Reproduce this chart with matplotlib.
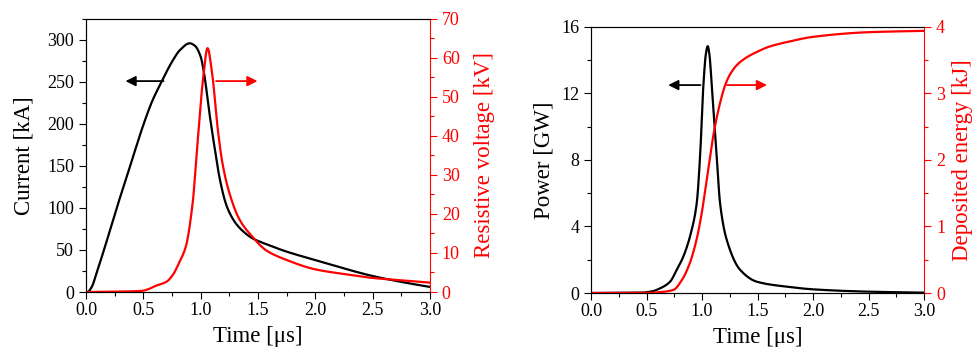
import numpy as np
import matplotlib
matplotlib.use('Agg')
import matplotlib.pyplot as plt
from matplotlib.ticker import MultipleLocator

plt.rcParams['font.family'] = 'Liberation Serif'

# Current [kA] vs time [us]
t_cur = [0.0, 0.012, 0.05, 0.093, 0.152, 0.268, 0.385, 0.508, 0.58, 0.662, 0.75,
         0.82, 0.904, 0.95, 1.0, 1.03, 1.076, 1.12, 1.163, 1.22, 1.26, 1.31, 1.38,
         1.45, 1.57, 1.75, 2.0, 2.25, 2.5, 2.75, 3.0]
current = [0, 0, 6, 23, 48, 100, 150, 202, 228, 251, 274,
           288, 296, 293, 280, 260, 213, 173, 137, 105, 92, 81, 71,
           64, 57, 48, 38, 28, 19, 12, 6]

# Resistive voltage [kV]
t_vol = [0.0, 0.3, 0.49, 0.55, 0.6, 0.70, 0.76, 0.81, 0.87, 0.93, 0.97, 1.02,
         1.06, 1.10, 1.15, 1.19, 1.25, 1.34, 1.45, 1.57, 1.75, 2.0, 2.25, 2.5,
         2.75, 3.0]
voltage = [0, 0.1, 0.3, 0.8, 1.5, 2.6, 4.5, 7.4, 11.6, 22.8, 37.3, 54.4,
           62.5, 56, 41.5, 33, 25.4, 18.5, 14.2, 10.7, 8.2, 5.8, 4.6, 3.6,
           3.0, 2.4]

# Power [GW]
t_pow = [0.0, 0.45, 0.55, 0.622, 0.712, 0.772, 0.832, 0.907, 0.952, 0.982,
         1.012, 1.035, 1.051, 1.067, 1.087, 1.132, 1.162, 1.222, 1.342, 1.493,
         1.763, 2.0, 2.5, 3.0]
power = [0, 0.02, 0.1, 0.28, 0.68, 1.4, 2.2, 3.8, 5.4, 8.2,
         12.5, 14.4, 14.84, 14.3, 12.5, 8.2, 5.4, 3.2, 1.4, 0.68,
         0.38, 0.22, 0.08, 0.02]

# Deposited energy [kJ]
t_en = [0.0, 0.5, 0.6, 0.74, 0.82, 0.89, 0.95, 0.997, 1.035, 1.072, 1.11, 1.147,
        1.18, 1.207, 1.25, 1.31, 1.4, 1.49, 1.6, 1.76, 2.0, 2.5, 3.0]
energy = [0, 0.0, 0.01, 0.045, 0.2, 0.45, 0.8, 1.2, 1.62, 2.05, 2.45, 2.75,
          2.97, 3.12, 3.28, 3.42, 3.54, 3.62, 3.7, 3.77, 3.85, 3.92, 3.94]


def smooth(t, y):
    # monotone piecewise cubic Hermite through the read points
    tt = np.linspace(t[0], t[-1], 800)
    t = np.asarray(t, float)
    y = np.asarray(y, float)
    h = np.diff(t)
    d = np.diff(y) / h
    m = np.zeros_like(y)
    for i in range(1, len(y) - 1):
        if d[i - 1] * d[i] > 0:
            w1 = 2 * h[i] + h[i - 1]
            w2 = h[i] + 2 * h[i - 1]
            m[i] = (w1 + w2) / (w1 / d[i - 1] + w2 / d[i])
    m[0] = d[0]
    m[-1] = d[-1]
    idx = np.clip(np.searchsorted(t, tt) - 1, 0, len(h) - 1)
    s = (tt - t[idx]) / h[idx]
    h00 = 2 * s**3 - 3 * s**2 + 1
    h10 = s**3 - 2 * s**2 + s
    h01 = -2 * s**3 + 3 * s**2
    h11 = s**3 - s**2
    yy = h00 * y[idx] + h10 * h[idx] * m[idx] + h01 * y[idx + 1] + h11 * h[idx] * m[idx + 1]
    return tt, yy


def style_axes(ax, ax2):
    for a in (ax, ax2):
        a.tick_params(which='major', direction='out', length=5, width=0.8, labelsize=13)
        a.tick_params(which='minor', direction='out', length=3, width=0.8)
    ax.tick_params(axis='y', right=False)
    ax2.tick_params(axis='y', colors='red', which='both')
    ax2.spines['right'].set_color('red')
    ax.spines['right'].set_visible(False)
    ax.tick_params(axis='x', pad=2)
    for sp in ('left', 'top', 'bottom'):
        ax.spines[sp].set_color('#333333')


fig = plt.figure(figsize=(9.74, 3.47), dpi=100)

# Left panel: current and resistive voltage
ax1 = fig.add_axes([0.0883, 0.1585, 0.3532, 0.787])
ax1b = ax1.twinx()
x, y = smooth(t_cur, current)
ax1.plot(x, y, color='black', lw=1.6)
x, y = smooth(t_vol, voltage)
ax1b.plot(x, y, color='red', lw=1.6)
ax1.set_xlim(0, 3)
ax1.set_ylim(0, 325)
ax1b.set_ylim(0, 70)
ax1.xaxis.set_major_locator(MultipleLocator(0.5))
ax1.xaxis.set_minor_locator(MultipleLocator(0.25))
ax1.yaxis.set_major_locator(MultipleLocator(50))
ax1.yaxis.set_minor_locator(MultipleLocator(25))
ax1b.yaxis.set_major_locator(MultipleLocator(10))
ax1b.yaxis.set_minor_locator(MultipleLocator(5))
style_axes(ax1, ax1b)
ax1.set_xlabel('Time [μs]', fontsize=16.5, labelpad=5)
ax1.set_ylabel('Current [kA]', fontsize=16.5, labelpad=9)
ax1b.set_ylabel('Resistive voltage [kV]', fontsize=16.5, color='red', labelpad=10)
ax1.annotate('', xy=(0.32, 251), xytext=(0.7, 251),
             arrowprops=dict(arrowstyle='-|>', color='black', lw=1.3, mutation_scale=15))
ax1.annotate('', xy=(1.52, 251), xytext=(1.11, 251),
             arrowprops=dict(arrowstyle='-|>', color='red', lw=1.3, mutation_scale=15))

# Right panel: power and deposited energy
ax2 = fig.add_axes([0.6068, 0.1556, 0.342, 0.767])
ax2b = ax2.twinx()
x, y = smooth(t_pow, power)
ax2.plot(x, y, color='black', lw=1.6)
x, y = smooth(t_en, energy)
ax2b.plot(x, y, color='red', lw=1.6)
ax2.set_xlim(0, 3)
ax2.set_ylim(0, 16)
ax2b.set_ylim(0, 4)
ax2.xaxis.set_major_locator(MultipleLocator(0.5))
ax2.xaxis.set_minor_locator(MultipleLocator(0.25))
ax2.yaxis.set_major_locator(MultipleLocator(4))
ax2.yaxis.set_minor_locator(MultipleLocator(2))
ax2b.yaxis.set_major_locator(MultipleLocator(1))
ax2b.yaxis.set_minor_locator(MultipleLocator(0.5))
style_axes(ax2, ax2b)
ax2.set_xlabel('Time [μs]', fontsize=16.5, labelpad=5)
ax2.set_ylabel('Power [GW]', fontsize=16.5, labelpad=5)
ax2b.set_ylabel('Deposited energy [kJ]', fontsize=16.5, color='red', labelpad=5)
ax2.annotate('', xy=(0.67, 12.5), xytext=(1.01, 12.5),
             arrowprops=dict(arrowstyle='-|>', color='black', lw=1.3, mutation_scale=15))
ax2.annotate('', xy=(1.61, 12.5), xytext=(1.2, 12.5),
             arrowprops=dict(arrowstyle='-|>', color='red', lw=1.3, mutation_scale=15))

plt.savefig('out.png', dpi=100)
